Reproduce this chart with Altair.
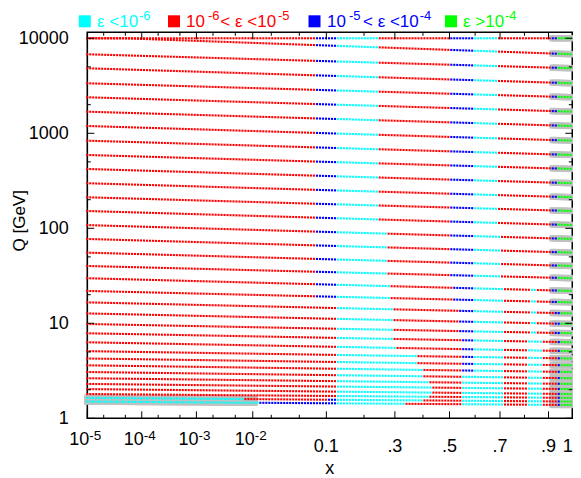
import numpy as np
import pandas as pd
import altair as alt

# ---------------- values ----------------
A_PAR = 9.0                      # x axis is drawn in u = ln(x) - 9 (1 - x)
X_FIRST, X_LAST, N_COLS = 1e-5, 0.993, 163
Q_MAX = 10000.0
Q_TOP = 11560.0

# Q of each sampling row at its left end (each row drifts down to the next one)
ROW_Q = [14000, 10320, 6785, 4833, 3360, 2393, 1688, 1193, 836, 591,
         421, 298, 212, 152, 108, 77.2, 55.4, 40.1, 29.8, 21.9,
         16.6, 12.7, 9.83, 7.85, 6.31, 5.09, 4.26, 3.61, 3.07, 2.64,
         2.30, 2.03, 1.80, 1.64, 1.50]
Q_END = 1.38

CATS = ["C", "R", "B", "G"]
CAT_COLORS = ["#00ffff", "#ff0000", "#0000ff", "#00ff00"]

# colour runs along each row: category letter + upper x of the run
P_TOP = "R.077 B.125 C.246 R.505 B.600 C.693 R.912 B.937 G1.1"
P_14 = "R.077 B.125 C.270 R.505 B.600 C.700 R.912 B.937 G1.1"
P_18 = "R.077 B.125 C.280 R.515 B.598 C.710 R.823 C.855 R.912 B.940 G1.1"
P_20 = "R.125 C.290 R.530 B.595 C.710 R.823 C.855 R.925 B.945 G1.1"
ROW_RUNS = [P_TOP] * 14 + [P_14] * 4 + [P_18] * 2 + [P_20] * 3 + [
    "R.125 C.294 R.550 B.593 C.720 R.815 C.870 R.933 B.946 G1.1",   # 23
    "R.125 C.300 R.550 B.593 C.720 R.815 C.870 R.933 B.946 G1.1",   # 24
    "R.125 C.375 R.550 B.593 C.720 R.815 C.870 R.933 B.946 G1.1",   # 25
    "R.125 C.380 R.550 B.593 C.720 R.815 C.870 R.933 B.946 G1.1",   # 26
    "R.125 C.400 R.550 B.593 C.720 R.815 C.870 R.933 B.946 G1.1",   # 27
    "R.125 C.400 R.550 C.720 R.815 C.870 R.935 B.950 G1.1",         # 28
    "R.125 C.422 R.550 C.720 R.815 C.870 R.935 B.950 G1.1",         # 29
    "R.125 C.430 R.550 C.720 R.815 C.870 R.935 B.950 G1.1",         # 30
    "R.125 C.436 R.550 C.720 R.815 C.870 R.940 B.953 G1.1",         # 31
    "R.125 C.422 R.550 C.720 R.815 C.870 R.940 B.953 G1.1",         # 32
    "C.0075 R.100 B.125 C.400 R.550 C.720 R.815 C.870 R.940 B.953 G1.1",  # 33
    "C.012 B.125 C.340 R.550 C.720 R.815 C.870 R.940 B.953 G1.1",   # 34
]

GRAY_RIGHT_X = 0.912
GRAY_LOW_ROWS = [33, 34]
GRAY_LOW_X = 0.0115

X_MAJOR = [1e-5, 1e-4, 1e-3, 1e-2, 0.1, 0.3, 0.5, 0.7, 0.9]
X_MINOR = [2e-5, 5e-5, 2e-4, 5e-4, 2e-3, 5e-3, 2e-2, 5e-2, 0.2, 0.4, 0.6, 0.8]
Y_MAJOR = [1, 10, 100, 1000, 10000]
Y_MINOR = [2, 5, 20, 50, 200, 500, 2000, 5000]
X_POW_LABELS = [(1e-5, "-5"), (1e-4, "-4"), (1e-3, "-3"), (1e-2, "-2")]
X_PLAIN_LABELS = [(0.1, "0.1"), (0.3, ".3"), (0.5, ".5"), (0.7, ".7"), (0.9, ".9")]
X_END_LABEL = (1.0, "1")


def u_of(x):
    x = np.asarray(x, dtype=float)
    return np.log(x) - A_PAR * (1.0 - x)


def parse_runs(s):
    return [(tok[0], float(tok[1:])) for tok in s.split()]


# ---------------- build tables ----------------
u_cols = np.linspace(float(u_of(X_FIRST)), float(u_of(X_LAST)), N_COLS)
recs, gray = [], []
for k, qk in enumerate(ROW_Q):
    qn = ROW_Q[k + 1] if k + 1 < len(ROW_Q) else Q_END
    runs = parse_runs(ROW_RUNS[k])
    for j, uj in enumerate(u_cols):
        f = j / N_COLS
        q = min(10 ** ((1 - f) * np.log10(qk) + f * np.log10(qn)), Q_MAX)
        cat = runs[-1][0]
        for c, xe in runs:
            if uj < u_of(xe):
                cat = c
                break
        recs.append({"u": uj, "Q": q, "cat": cat})
        if uj >= u_of(GRAY_RIGHT_X) or (k in GRAY_LOW_ROWS and uj < u_of(GRAY_LOW_X)):
            gray.append({"u": uj, "Q": q})
pts_df = pd.DataFrame(recs)
gray_df = pd.DataFrame(gray)

W, H = 485, 386
FONT = "Liberation Sans"
xs = alt.Scale(domain=[float(u_of(X_FIRST)), 0.0], nice=False, zero=False)
ys = alt.Scale(type="log", domain=[1, Q_TOP], nice=False)
YAX = alt.Axis(values=Y_MAJOR, format="d", ticks=False, domain=False, grid=False,
               labelFont=FONT, labelFontSize=18, labelColor="black", labelPadding=19,
               title="Q [GeV]", titleFont=FONT, titleFontSize=17, titleFontWeight="normal",
               titleColor="black", titleX=-63.3, titleY=188, titleBaseline="alphabetic")


def X():
    return alt.X("u:Q", scale=xs, axis=None)


def Y():
    return alt.Y("Q:Q", scale=ys, axis=YAX)


gray_layer = alt.Chart(gray_df).mark_square(size=42, color="#c0c0c0", opacity=1).encode(x=X(), y=Y())
pts_layer = alt.Chart(pts_df).mark_square(size=4.4, opacity=1).encode(
    x=X(), y=Y(),
    color=alt.Color("cat:N", scale=alt.Scale(domain=CATS, range=CAT_COLORS), legend=None),
)
layers = [gray_layer, pts_layer]

xt_maj = pd.DataFrame({"u": u_of(X_MAJOR)})
xt_min = pd.DataFrame({"u": u_of(X_MINOR)})
yt_maj = pd.DataFrame({"Q": Y_MAJOR})
yt_min = pd.DataFrame({"Q": Y_MINOR})
for df_, ln in ((xt_maj, 7), (xt_min, 3.5)):
    layers.append(alt.Chart(df_).mark_rule(color="black", strokeWidth=1).encode(
        x=X(), y=alt.value(H), y2=alt.value(H - ln)))
    layers.append(alt.Chart(df_).mark_rule(color="black", strokeWidth=1).encode(
        x=X(), y=alt.value(0), y2=alt.value(ln)))
for df_, ln in ((yt_maj, 7), (yt_min, 3.5)):
    layers.append(alt.Chart(df_).mark_rule(color="black", strokeWidth=1).encode(
        y=Y(), x=alt.value(0), x2=alt.value(ln)))
    layers.append(alt.Chart(df_).mark_rule(color="black", strokeWidth=1).encode(
        y=Y(), x=alt.value(W), x2=alt.value(W - ln)))

pow_df = pd.DataFrame({"u": u_of([p[0] for p in X_POW_LABELS]),
                       "sup": [p[1] for p in X_POW_LABELS], "base": "10"})
plain_df = pd.DataFrame({"u": u_of([p[0] for p in X_PLAIN_LABELS]), "t": [p[1] for p in X_PLAIN_LABELS]})
end_df = pd.DataFrame({"u": u_of([X_END_LABEL[0]]), "t": [X_END_LABEL[1]]})
layers.append(alt.Chart(pow_df).mark_text(align="right", baseline="alphabetic", font=FONT, fontSize=18,
                                          color="black", dx=2).encode(x=X(), y=alt.value(H + 27), text="base:N"))
layers.append(alt.Chart(pow_df).mark_text(align="left", baseline="alphabetic", font=FONT, fontSize=13.5,
                                          color="black", dx=2).encode(x=X(), y=alt.value(H + 21.5), text="sup:N"))
layers.append(alt.Chart(plain_df).mark_text(align="center", baseline="alphabetic", font=FONT, fontSize=18,
                                            color="black").encode(x=X(), y=alt.value(H + 33.5), text="t:N"))
layers.append(alt.Chart(end_df).mark_text(align="right", baseline="alphabetic", font=FONT, fontSize=18,
                                          color="black", dx=0.5).encode(x=X(), y=alt.value(H + 33.5), text="t:N"))

one = pd.DataFrame({"d": [0]})


def txt(s, xr, yr, color, size, align="left"):
    return alt.Chart(one).mark_text(align=align, baseline="alphabetic", font=FONT, fontSize=size,
                                    color=color).encode(x=alt.value(xr), y=alt.value(yr), text=alt.value(s))


layers.append(txt("x", W / 2, H + 55.7, "black", 18, "center"))

# legend: approximate Arial/Liberation advance widths (em) to chain the pieces
ADV = {"1": .556, "0": .556, "<": .584, ">": .584, " ": .278, "ε": .45, "-": .333,
       "4": .556, "5": .556, "6": .556}


def width(s, size):
    return sum(ADV.get(ch, .556) for ch in s) * size


BASE_FS, SUP_FS = 17, 13
BY, SY, QY = -5.0, -12.4, -11.0
LEGEND = [  # (colour index, square centre, [(text, is_sup, wanted start)])
    (0, -2.5, [("ε <10", False, 9.7), ("-6", True, 47.7)]),
    (1, 86.7, [("10", False, 98.7), ("-6", True, 120.7), ("< ε <10", False, 132.7), ("-5", True, 190.7)]),
    (2, 227.2, [("10", False, 239.7), ("-5", True, 261.7), ("< ε <10", False, 275.7), ("-4", True, 330.7)]),
    (3, 363.7, [("ε >10", False, 375.7), ("-4", True, 412.7)]),
]
for ci, sqx, pieces in LEGEND:
    col = CAT_COLORS[ci]
    layers.append(alt.Chart(one).mark_square(size=144, opacity=1, color=col).encode(
        x=alt.value(sqx), y=alt.value(QY)))
    end = -1e9
    for s, is_sup, want in pieces:
        fs = SUP_FS if is_sup else BASE_FS
        start = max(want, end + 0.8)
        layers.append(txt(s, start, SY if is_sup else BY, col, fs))
        end = start + width(s, fs)

chart = alt.layer(*layers).properties(
    width=W, height=H, autosize="none",
    padding={"left": 79.3, "top": 24.3, "right": 0.7, "bottom": 62},
).configure_view(stroke="black", strokeWidth=1.6)

chart.save("out.html", embed_options={"renderer": "svg", "actions": False})
